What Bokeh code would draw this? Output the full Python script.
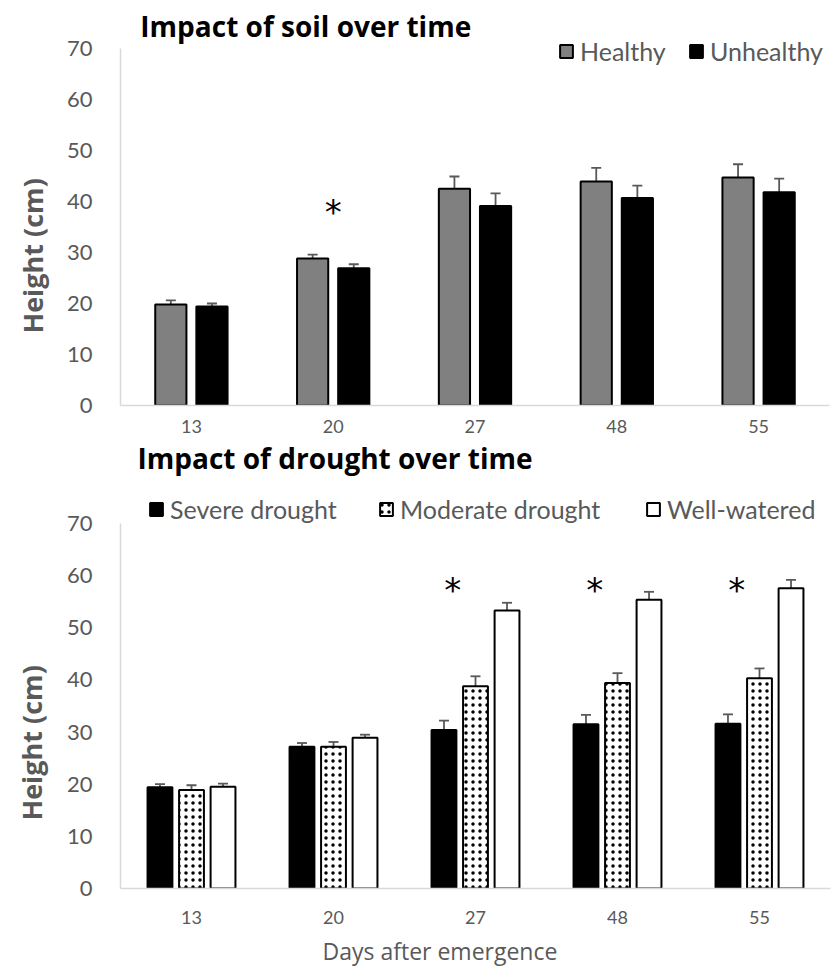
from bokeh.plotting import figure
from bokeh.models import (ColumnDataSource, FactorRange, Range1d, Whisker, TeeHead,
                          Legend, LegendItem, Label, FixedTicker, Title)
from bokeh.transform import dodge
from bokeh.layouts import column
from bokeh.embed import file_html
from bokeh.resources import INLINE
from bokeh.core.properties import value

# ---------------- data ----------------
days = ["13", "20", "27", "48", "55"]
y_ticks = [0, 10, 20, 30, 40, 50, 60, 70]

healthy = [19.8, 28.8, 42.5, 43.9, 44.7]
healthy_err = [0.8, 0.8, 2.4, 2.7, 2.6]
unhealthy = [19.4, 26.9, 39.1, 40.7, 41.8]
unhealthy_err = [0.6, 0.8, 2.5, 2.4, 2.7]
soil_significant = ["20"]

severe = [19.4, 27.2, 30.4, 31.5, 31.6]
severe_err = [0.6, 0.7, 1.8, 1.8, 1.8]
moderate = [18.9, 27.2, 38.8, 39.4, 40.3]
moderate_err = [0.9, 0.9, 1.9, 1.9, 1.9]
well = [19.5, 28.9, 53.3, 55.4, 57.6]
well_err = [0.6, 0.6, 1.5, 1.5, 1.6]
drought_significant = ["27", "48", "55"]

GRAY_TXT = "#595959"
AXIS_COL = "#d9d9d9"
ERR_COL = "#595959"


def base_fig(frame_w, frame_h, y_top, left, right, bottom):
    p = figure(x_range=FactorRange(factors=days), y_range=Range1d(0, y_top),
               frame_width=frame_w, frame_height=frame_h,
               min_border_left=left, min_border_right=right,
               min_border_top=0, min_border_bottom=bottom, title=None,
               toolbar_location=None, tools="", output_backend="svg")
    p.outline_line_color = None
    p.grid.grid_line_color = None
    p.background_fill_color = "white"
    p.border_fill_color = "white"
    p.yaxis.ticker = FixedTicker(ticks=y_ticks)
    p.yaxis.bounds = (0, 70)
    for ax in (p.xaxis[0], p.yaxis[0]):
        ax.axis_line_color = AXIS_COL
        ax.axis_line_width = 1.5
        ax.major_tick_line_color = None
        ax.minor_tick_line_color = None
        ax.major_label_text_color = GRAY_TXT
        ax.major_label_text_font = "Lato"
    p.yaxis.major_label_text_font_size = "22px"
    p.yaxis.major_label_standoff = 22
    p.xaxis.major_label_text_font_size = "18px"
    return p


def add_errors(p, src, col, offset):
    src.data[col + "_up"] = [v + e for v, e in zip(src.data[col], src.data[col + "_err"])]
    src.data[col + "_lo"] = [v - e for v, e in zip(src.data[col], src.data[col + "_err"])]
    w = Whisker(base=dodge("day", offset, range=p.x_range), upper=col + "_up", lower=col + "_lo",
                source=src, line_color=ERR_COL, line_width=1.8,
                upper_head=TeeHead(size=10, line_color=ERR_COL, line_width=1.8),
                lower_head=TeeHead(size=10, line_color=ERR_COL, line_width=1.8))
    p.add_layout(w)


def add_legend(p, renderer, label, vx, vy):
    lg = Legend(items=[LegendItem(label=label, renderers=[renderer])],
                location=(vx, vy), orientation="horizontal",
                glyph_width=16, glyph_height=16, label_standoff=6,
                padding=0, margin=0, spacing=0,
                border_line_color=None, background_fill_alpha=0,
                label_text_font="Lato", label_text_font_size="25px",
                label_text_color=GRAY_TXT, label_height=16)
    p.add_layout(lg)


def add_ylabel(p, offset, standoff):
    p.add_layout(Title(text="Height (cm)", align="left", offset=offset, standoff=standoff,
                       vertical_align="top",
                       text_font="Open Sans", text_font_style="bold",
                       text_font_size="27px", text_color=GRAY_TXT), "left")


# ---------------- top chart: soil ----------------
p1 = base_fig(709, 405, 79.41, 117, 8, 30)
p1.xaxis.major_label_standoff = 8
src1 = ColumnDataSource(dict(day=days, healthy=healthy, healthy_err=healthy_err,
                             unhealthy=unhealthy, unhealthy_err=unhealthy_err))
r_h = p1.vbar(x=dodge("day", -0.145, range=p1.x_range), top="healthy", width=0.22, bottom=0,
              source=src1, fill_color="#808080", line_color="black", line_width=2)
r_u = p1.vbar(x=dodge("day", 0.145, range=p1.x_range), top="unhealthy", width=0.22, bottom=0,
              source=src1, fill_color="black", line_color="black", line_width=2)
add_errors(p1, src1, "healthy", -0.145)
add_errors(p1, src1, "unhealthy", 0.145)
star1 = ColumnDataSource(dict(day=soil_significant, y=[37.9] * len(soil_significant),
                              t=["*"] * len(soil_significant)))
p1.text(x=dodge("day", 0, range=p1.x_range), y="y", text="t", source=star1,
        text_font=value("DejaVu Sans"), text_font_size="34px", text_color="black",
        text_align="center", text_baseline="middle")
add_legend(p1, r_h, "Healthy", 438, 339)
add_legend(p1, r_u, "Unhealthy", 568, 339)
p1.add_layout(Label(x=0.14, y=74.4, text="Impact of soil over time", text_font="Open Sans",
                    text_font_style="bold", text_font_size="28px", text_color="black",
                    text_baseline="alphabetic", text_align="left"))
add_ylabel(p1, 72, 21)

# ---------------- bottom chart: drought ----------------
p2 = base_fig(710, 453, 86.88, 120, 4, 70)
p2.xaxis.major_label_standoff = 16
p2.add_layout(Title(text="Days after emergence", align="left", offset=202, standoff=12,
                    text_font="Open Sans", text_font_style="normal",
                    text_font_size="23px", text_color=GRAY_TXT), "below")
src2 = ColumnDataSource(dict(day=days, severe=severe, severe_err=severe_err,
                             moderate=moderate, moderate_err=moderate_err,
                             well=well, well_err=well_err))
r_s = p2.vbar(x=dodge("day", -0.222, range=p2.x_range), top="severe", width=0.175, bottom=0,
              source=src2, fill_color="black", line_color="black", line_width=2)
r_m = p2.vbar(x=dodge("day", 0.0, range=p2.x_range), top="moderate", width=0.175, bottom=0,
              source=src2, fill_color="white", line_color="black", line_width=2,
              hatch_pattern="dot", hatch_color="black", hatch_scale=7, hatch_weight=0.7)
r_w = p2.vbar(x=dodge("day", 0.222, range=p2.x_range), top="well", width=0.175, bottom=0,
              source=src2, fill_color="white", line_color="black", line_width=2)
add_errors(p2, src2, "severe", -0.222)
add_errors(p2, src2, "moderate", 0.0)
add_errors(p2, src2, "well", 0.222)
star2 = ColumnDataSource(dict(day=drought_significant, y=[57.25] * len(drought_significant),
                              t=["*"] * len(drought_significant)))
p2.text(x=dodge("day", -0.16, range=p2.x_range), y="y", text="t", source=star2,
        text_font=value("DejaVu Sans"), text_font_size="34px", text_color="black",
        text_align="center", text_baseline="middle")
add_legend(p2, r_s, "Severe drought", 28, 364)
add_legend(p2, r_m, "Moderate drought", 258, 364)
add_legend(p2, r_w, "Well-watered", 525, 364)
p2.add_layout(Label(x=0.12, y=82.5, text="Impact of drought over time", text_font="Open Sans",
                    text_font_style="bold", text_font_size="28px", text_color="black",
                    text_baseline="alphabetic", text_align="left"))
add_ylabel(p2, 68, 24)

layout = column(p1, p2, spacing=0)
open("out.html", "w").write(file_html(layout, INLINE))
